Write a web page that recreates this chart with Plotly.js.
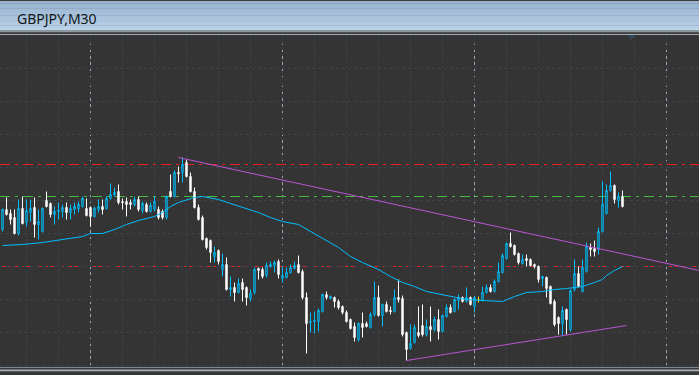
<!DOCTYPE html>
<html><head><meta charset="utf-8">
<script src="https://cdn.plot.ly/plotly-3.0.1.min.js"></script>
<style>html,body{margin:0;padding:0;background:#3a3a3a;overflow:hidden}#chart{width:699px;height:375px}</style>
</head><body><div id="chart"></div>
<script>
const chartTitle = 'GBPJPY,M30';

const openP = [
187.70,187.90,187.86,187.82,187.66,187.91,187.77,187.87,187.92,187.75,
187.68,187.99,187.96,187.85,187.88,187.88,187.92,187.87,187.90,187.91,
187.93,187.91,187.92,187.83,187.90,187.93,187.91,188.01,188.05,188.08,
187.98,187.98,187.97,187.95,188.00,187.89,187.95,187.88,187.90,187.90,
187.88,187.82,188.08,188.03,188.27,188.27,188.37,188.23,188.08,187.92,
187.82,187.61,187.59,187.43,187.49,187.30,187.35,187.10,187.12,187.07,
187.17,187.12,187.01,187.07,187.31,187.30,187.24,187.33,187.34,187.38,
187.21,187.22,187.27,187.31,187.35,187.28,187.02,186.77,186.78,186.78,
186.88,187.05,187.01,187.02,186.98,186.93,186.87,186.80,186.73,186.60,
186.76,186.76,186.72,186.85,187.02,186.84,186.95,186.89,186.88,187.02,
187.01,186.67,186.51,186.57,186.67,186.74,186.65,186.73,186.70,186.80,
186.68,186.83,186.92,186.88,186.99,187.02,186.98,187.02,186.93,187.00,
186.99,187.07,187.12,187.08,187.18,187.27,187.41,187.56,187.54,187.46,
187.36,187.41,187.40,187.35,187.33,187.21,187.22,187.13,186.98,186.82,
186.76,186.90,186.70,187.10,187.26,187.08,187.28,187.52,187.51,187.50,
187.68,187.86,188.09,188.14,187.99,188.03];

const highP = [
187.91,188.02,187.90,187.90,188.00,188.03,188.00,188.00,188.02,187.90,
187.92,188.08,187.97,187.93,187.97,187.95,187.97,187.95,187.97,187.98,
188.03,188.01,187.93,187.93,188.00,188.00,188.03,188.16,188.12,188.15,
188.01,188.02,188.00,188.03,188.03,187.98,187.97,187.97,188.03,187.93,
187.90,188.04,188.25,188.29,188.33,188.42,188.40,188.27,188.12,187.95,
187.84,187.62,187.60,187.53,187.50,187.46,187.42,187.23,187.17,187.21,
187.21,187.13,187.10,187.32,187.32,187.32,187.37,187.38,187.39,187.40,
187.33,187.32,187.35,187.38,187.44,187.30,187.07,186.87,186.88,186.91,
187.06,187.08,187.04,187.03,187.00,186.94,186.89,186.81,186.77,186.77,
186.87,186.78,186.87,187.18,187.14,186.96,186.98,186.93,187.10,187.20,
187.04,186.68,186.75,186.75,186.93,186.95,186.80,186.93,186.83,186.90,
186.85,186.95,186.95,187.01,187.05,187.03,187.12,187.03,187.03,187.03,
187.13,187.15,187.15,187.20,187.37,187.46,187.57,187.67,187.55,187.47,
187.45,187.45,187.41,187.36,187.34,187.24,187.23,187.14,187.00,186.83,
186.93,186.91,187.10,187.40,187.33,187.40,187.57,187.56,187.59,187.72,
188.18,188.15,188.28,188.15,188.07,188.09];

const lowP = [
187.68,187.84,187.75,187.65,187.64,187.75,187.73,187.78,187.62,187.60,
187.67,187.92,187.82,187.75,187.80,187.82,187.80,187.80,187.85,187.87,
187.92,187.83,187.73,187.82,187.87,187.85,187.90,188.00,188.03,187.95,
187.90,187.83,187.90,187.93,187.88,187.86,187.87,187.87,187.88,187.80,
187.80,187.80,188.02,188.02,188.17,188.17,188.22,188.07,187.91,187.79,
187.59,187.50,187.37,187.37,187.35,187.23,187.09,187.03,186.98,187.06,
186.98,186.94,186.98,187.05,187.20,187.21,187.22,187.32,187.27,187.21,
187.17,187.21,187.26,187.30,187.26,187.00,186.46,186.67,186.66,186.68,
186.87,187.00,187.00,186.92,186.90,186.85,186.77,186.70,186.58,186.58,
186.62,186.72,186.71,186.83,186.83,186.73,186.87,186.85,186.87,186.97,
186.63,186.39,186.50,186.56,186.62,186.63,186.63,186.58,186.68,186.60,
186.67,186.82,186.86,186.87,186.90,186.97,186.97,186.94,186.87,186.97,
186.98,187.06,187.07,187.07,187.17,187.26,187.40,187.52,187.44,187.35,
187.35,187.33,187.33,187.31,187.17,187.13,187.02,186.95,186.73,186.65,
186.64,186.65,186.68,187.08,187.12,187.07,187.27,187.43,187.43,187.45,
187.67,187.85,188.08,187.96,187.92,187.92];

const closeP = [
187.90,187.85,187.80,187.66,187.91,187.76,187.89,187.91,187.75,187.78,
187.91,187.93,187.85,187.88,187.89,187.92,187.87,187.91,187.93,187.95,
188.01,187.84,187.83,187.91,187.93,187.90,188.01,188.05,188.07,187.97,
187.97,187.95,187.95,188.00,187.90,187.96,187.88,187.94,187.98,187.82,
187.82,188.03,188.03,188.27,188.26,188.35,188.23,188.08,187.92,187.80,
187.60,187.52,187.47,187.47,187.38,187.35,187.10,187.12,187.07,187.16,
187.10,187.02,187.06,187.30,187.29,187.23,187.34,187.35,187.37,187.25,
187.24,187.27,187.32,187.34,187.27,187.02,186.76,186.78,186.79,186.89,
187.05,187.02,187.03,186.98,186.92,186.87,186.78,186.71,186.62,186.76,
186.72,186.73,186.85,187.02,186.84,186.95,186.88,186.88,187.02,187.00,
186.65,186.50,186.56,186.72,186.64,186.65,186.73,186.70,186.80,186.68,
186.84,186.92,186.87,187.00,187.02,186.98,187.02,186.95,187.02,187.00,
187.07,187.12,187.08,187.18,187.28,187.44,187.56,187.53,187.45,187.37,
187.40,187.39,187.34,187.33,187.20,187.23,187.11,186.96,186.75,186.76,
186.89,186.80,187.09,187.26,187.13,187.32,187.53,187.50,187.48,187.68,
187.95,188.09,188.14,188.00,188.03,187.93];

// moving average (read at selected bars)
const maBar = [0,5,10,15,20,22,25,28,31,34,38,40,42,44,48,50,54,57,60,64,67,70,74,77,80,84,87,90,94,97,100,103,106,110,113,116,120,123,125,128,131,135,138,141,145,148,150,151,153,155];
const maVal = [187.54,187.55,187.57,187.60,187.63,187.66,187.66,187.70,187.75,187.79,187.83,187.87,187.93,187.97,188.02,188.03,188.00,187.96,187.92,187.87,187.82,187.78,187.75,187.68,187.61,187.52,187.43,187.37,187.30,187.23,187.17,187.13,187.08,187.05,187.03,187.00,186.99,186.98,186.98,187.03,187.07,187.08,187.10,187.11,187.13,187.17,187.20,187.24,187.29,187.33];

// trend lines
const upperTrendBar = [44, 174.25];
const upperTrendVal = [188.42, 187.29];
const lowerTrendBar = [101, 156];
const lowerTrendVal = [186.39, 186.74];

// horizontal levels
const redLevels = [188.35, 187.33];
const greenLevels = [188.03];

// period separators (bar positions)
const separatorBars = [22, 70, 118, 166];

const bars = openP.map((_, i) => i);
const normIdx = bars.filter(i => openP[i] !== closeP[i]);
const dojiIdx = bars.filter(i => openP[i] === closeP[i]);
const pick = (arr, ids) => ids.map(i => arr[i]);

const BG = '#343434';
const CYAN = '#00BFFF';
const PURPLE = '#BA55D3';

const traces = [
  {type:'candlestick', x: pick(bars, normIdx), open: pick(openP, normIdx), high: pick(highP, normIdx),
   low: pick(lowP, normIdx), close: pick(closeP, normIdx),
   increasing:{line:{color:CYAN,width:1}, fillcolor:BG},
   decreasing:{line:{color:'#FFFFFF',width:1}, fillcolor:'#FFFFFF'},
   whiskerwidth:0, hoverinfo:'skip', showlegend:false},
  {type:'candlestick', x: pick(bars, dojiIdx), open: pick(openP, dojiIdx), high: pick(highP, dojiIdx),
   low: pick(lowP, dojiIdx), close: pick(closeP, dojiIdx),
   increasing:{line:{color:'#FFD700',width:1}, fillcolor:'#FFD700'},
   decreasing:{line:{color:'#FFD700',width:1}, fillcolor:'#FFD700'},
   whiskerwidth:0, hoverinfo:'skip', showlegend:false},
  {type:'scatter', mode:'lines', x: maBar, y: maVal, line:{color:CYAN, width:1}, hoverinfo:'skip', showlegend:false},
  {type:'scatter', mode:'lines', x: upperTrendBar, y: upperTrendVal, line:{color:PURPLE, width:1}, hoverinfo:'skip', showlegend:false},
  {type:'scatter', mode:'lines', x: lowerTrendBar, y: lowerTrendVal, line:{color:PURPLE, width:1}, hoverinfo:'skip', showlegend:false}
];

const PLOT_TOP = 35, PLOT_BOT = 367;
const shapes = [];
function band(yTop, yBot, color) {
  if (yBot <= PLOT_TOP) {
    shapes.push({type:'rect', xref:'paper', yref:'paper', x0:0, x1:1, ysizemode:'pixel', yanchor:1,
      y0: PLOT_TOP - yBot, y1: PLOT_TOP - yTop, fillcolor: color, line:{width:0}, layer:'above'});
  } else {
    shapes.push({type:'rect', xref:'paper', yref:'paper', x0:0, x1:1, ysizemode:'pixel', yanchor:0,
      y0: PLOT_BOT - yBot, y1: PLOT_BOT - yTop, fillcolor: color, line:{width:0}, layer:'above'});
  }
}
band(0, 1, '#3c3c3c');
const nBands = 12;
for (let k = 0; k < nBands; k++) {
  const t = k / (nBands - 1);
  const r = Math.round(151 + 35 * t), g = Math.round(179 + 30 * t), b = Math.round(207 + 25 * t);
  band(1 + k * 29 / nBands, 1 + (k + 1) * 29 / nBands + 0.3, `rgb(${r},${g},${b})`);
}
band(30, 32.5, '#8d979f');
band(32.5, 34, '#3b3b3b');
band(34, 35, '#a3acb4');
band(367, 368, '#7e8891');
band(368, 369.5, '#3a3a3a');
band(369.5, 371.5, '#a7b0b8');
band(371.5, 375, '#363636');

separatorBars.forEach(xb => shapes.push({type:'line', xref:'x', yref:'paper', x0:xb, x1:xb, y0:0, y1:1,
  line:{color:'#9aa5b0', width:1, dash:'4px,3px'}, layer:'between'}));
redLevels.forEach(v => shapes.push({type:'line', xref:'paper', yref:'y', x0:0, x1:1, y0:v, y1:v,
  line:{color:'#F01E1E', width:1, dash:'10px,5px,3px,5px'}, layer:'between'}));
greenLevels.forEach(v => shapes.push({type:'line', xref:'paper', yref:'y', x0:0, x1:1, y0:v, y1:v,
  line:{color:'#44BB3C', width:1, dash:'10px,5px,3px,5px'}, layer:'between'}));
// chart shift marker
shapes.push({type:'path', xref:'x', yref:'paper', xsizemode:'pixel', ysizemode:'pixel', xanchor:157.25, yanchor:1,
  path:'M-4,0 L4,0 L0,-5 Z', fillcolor:'#34465a', line:{width:0}, layer:'above'});

const layout = {
  width:699, height:375,
  margin:{l:0, r:0, t:PLOT_TOP, b:375 - PLOT_BOT, pad:0},
  paper_bgcolor:'#3a3a3a', plot_bgcolor:BG,
  showlegend:false, hovermode:false, boxgap:0.5, boxmode:'overlay',
  title:{text:chartTitle, x:17/699, xanchor:'left', xref:'container', y:1 - 19.5/375, yanchor:'middle', yref:'container',
    font:{family:'Noto Sans, DejaVu Sans, sans-serif', size:14, color:'#101820'}},
  xaxis:{range:[-0.625, 174.125], autorange:false, showgrid:true, gridcolor:'#3a424b', griddash:'3px,3px', gridwidth:1,
    tick0:22, dtick:8, showticklabels:false, ticks:'', zeroline:false, showline:false, rangeslider:{visible:false}, fixedrange:true},
  yaxis:{range:[186.325, 189.645], autorange:false, showgrid:true, gridcolor:'#3a424b', griddash:'3px,3px', gridwidth:1,
    tick0:189.31, dtick:0.33, showticklabels:false, ticks:'', zeroline:false, showline:false, fixedrange:true},
  shapes: shapes
};

Plotly.newPlot('chart', traces, layout, {staticPlot:true, displayModeBar:false});
</script>
</body></html>
